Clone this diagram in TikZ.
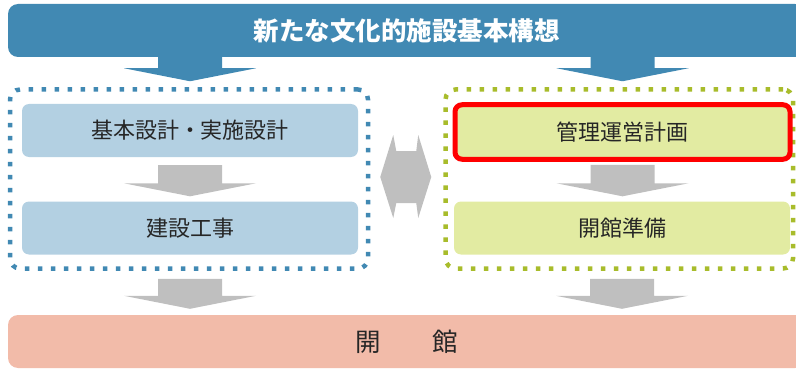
\documentclass[tikz,border=0pt]{standalone}
\usepackage{fontspec}
\newfontfamily\jp{Noto Sans CJK JP}
\usetikzlibrary{calc}

\definecolor{bannerblue}{RGB}{65,137,179}
\definecolor{planblue}{RGB}{179,208,226}
\definecolor{runolive}{RGB}{168,188,43}
\definecolor{rungreen}{RGB}{226,235,162}
\definecolor{arrowgray}{RGB}{191,191,191}
\definecolor{opensalmon}{RGB}{242,187,169}
\definecolor{inkgray}{RGB}{38,38,38}

\tikzset{
  banner/.style={rounded corners=10pt, minimum width=797pt, minimum height=53pt, inner sep=0pt},
  panel/.style={rounded corners=7pt, minimum width=336pt, minimum height=53pt, inner sep=0pt,
    text=inkgray, font=\jp\fontsize{22}{26}\selectfont},
  planbox/.style={panel, fill=planblue},
  runbox/.style={panel, fill=rungreen},
  dotframe/.style={rounded corners=10pt, line width=4.5pt, dash pattern=on 4.5pt off 8.5pt,
    minimum height=179pt, inner sep=0pt},
}

% wide arrow pointing down, from #2 (shaft top) to #3 (tip)
\newcommand\blockdown[3]{%
  \fill[#1] let \p1=#2, \p2=#3 in
    (\x1-32pt,\y1) -- (\x1+32pt,\y1) -- (\x1+32pt,\y2+13pt) -- (\x1+66pt,\y2+13pt)
    -- (\x1,\y2) -- (\x1-66pt,\y2+13pt) -- (\x1-32pt,\y2+13pt) -- cycle;}

\begin{document}
\begin{tikzpicture}[x=1pt, y=-1pt]
  \useasboundingbox (0,0) rectangle (796,369);
  \clip (0,0) rectangle (796,369);

  \node (title) [banner, fill=bannerblue, text=white,
    font=\jp\bfseries\fontsize{25.5}{30}\selectfont] at (406.5,30.5) {新たな文化的施設基本構想};
  \node (open) [banner, fill=opensalmon, text=inkgray,
    font=\jp\fontsize{25.5}{30}\selectfont] at (406.5,341.5) {開　　館};

  % the two groups
  \node (planframe) [dotframe, draw=bannerblue, minimum width=358pt] at (189,179) {};
  \node (runframe) [dotframe, draw=runolive, minimum width=347.5pt] at (619.25,179) {};

  \node (kihon) [planbox] at (190,130.5) {基本設計・実施設計};
  \node (kensetsu) [planbox] at (190,228) {建設工事};
  \node (kanri) [runbox, draw=red, line width=5pt, minimum width=335pt, minimum height=54.5pt]
    at (622.5,132) {管理運営計画};
  \node (junbi) [runbox] at (622,228) {開館準備};

  \blockdown{bannerblue}{($(title.south -| kihon)+(0,-1)$)}{($(planframe.north -| kihon)+(0,-6)$)}
  \blockdown{bannerblue}{($(title.south -| kanri)+(0,-1)$)}{($(runframe.north -| kanri)+(0,-6)$)}
  \blockdown{arrowgray}{($(kihon.south)+(0,8)$)}{($(kensetsu.north)+(0,-5)$)}
  \blockdown{arrowgray}{($(kanri.south)+(0,3)$)}{($(junbi.north)+(0,-5)$)}
  \blockdown{arrowgray}{($(planframe.south -| kensetsu)+(0,8)$)}{($(open.north -| kensetsu)+(0,-6)$)}
  \blockdown{arrowgray}{($(runframe.south -| junbi)+(0,8)$)}{($(open.north -| junbi)+(0,-6)$)}

  % both ways between the groups
  \fill[arrowgray] let \p1=(planframe.east), \p2=(runframe.west) in
    (\x1+10pt,\y1+2pt) -- (\x1+23pt,\y1+44pt) -- (\x1+26pt,\y1+28pt) -- (\x2-27pt,\y1+28pt)
    -- (\x2-25pt,\y1+44pt) -- (\x2-12pt,\y1+2pt) -- (\x2-25pt,\y1-39pt) -- (\x2-27pt,\y1-24pt)
    -- (\x1+26pt,\y1-24pt) -- (\x1+23pt,\y1-39pt) -- cycle;
\end{tikzpicture}
\end{document}
